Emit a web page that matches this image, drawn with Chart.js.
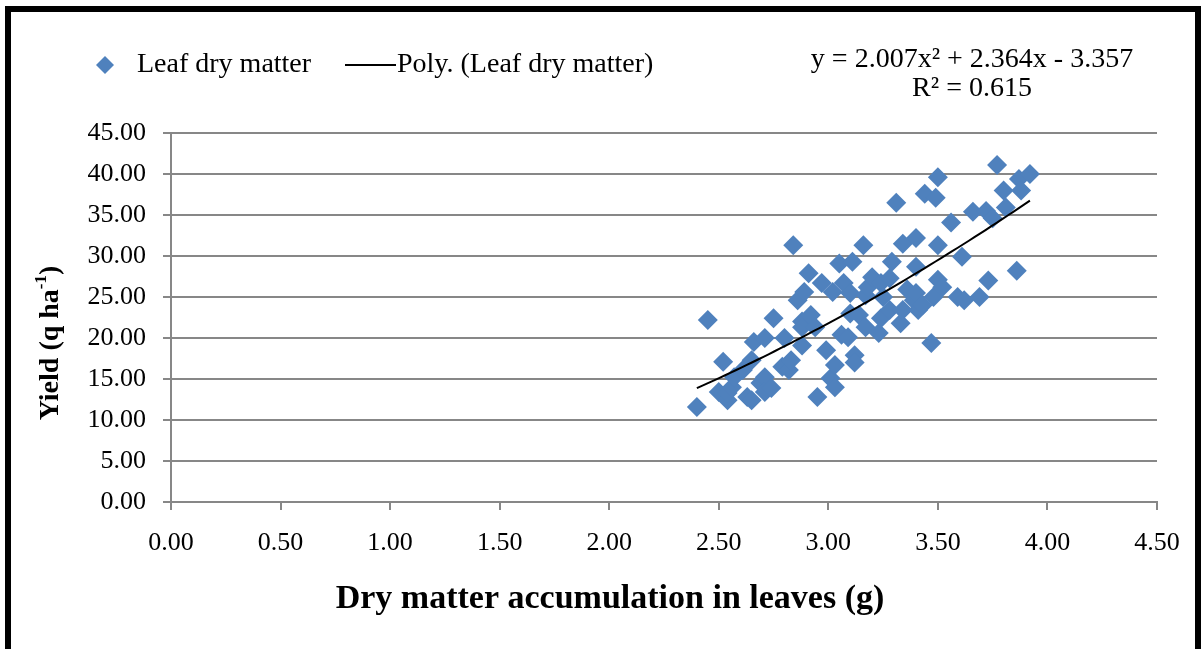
<!DOCTYPE html>
<html><head><meta charset="utf-8">
<script src="https://cdn.jsdelivr.net/npm/chart.js@4.4.1/dist/chart.umd.min.js"></script>
<style>html,body{margin:0;padding:0;background:#fff}canvas{display:block}</style>
</head><body>
<canvas id="c" width="1202" height="649"></canvas>
<script>
// ---- data ----
const leafDryMatter = [
  2.40,2.45,2.50,2.52,2.54,2.54,2.56,2.57,2.61,2.63,2.65,2.65,2.66,2.69,2.71,2.71,2.71,2.74,2.75,2.79,
  2.80,2.82,2.83,2.84,2.86,2.88,2.88,2.89,2.88,2.91,2.92,2.94,2.95,2.97,2.99,3.01,3.02,3.03,3.03,3.05,
  3.06,3.07,3.09,3.10,3.10,3.11,3.12,3.12,3.14,3.16,3.17,3.17,3.18,3.20,3.23,3.24,3.24,3.25,3.28,3.28,
  3.29,3.31,3.33,3.34,3.34,3.36,3.39,3.40,3.40,3.40,3.41,3.43,3.44,3.47,3.48,3.49,3.50,3.50,3.50,3.52,
  3.56,3.59,3.61,3.62,3.66,3.69,3.72,3.73,3.75,3.77,3.80,3.81,3.86,3.87,3.88,3.92
];
const yieldValues = [
  11.6,22.2,13.4,17.1,12.4,13.3,14.0,15.2,16.1,12.8,12.4,17.3,19.5,14.5,15.2,13.4,20.0,13.9,22.4,16.5,
  20.0,16.1,17.3,31.3,24.6,22.0,19.1,25.6,21.3,27.9,22.8,21.3,12.8,26.7,18.5,15.1,25.6,16.7,14.0,29.1,
  20.4,26.7,20.1,25.5,23.0,29.3,17.9,17.0,22.8,31.3,25.2,21.3,26.2,27.4,20.6,26.7,22.4,25.0,27.3,23.4,
  29.3,36.5,21.8,31.5,23.4,25.9,24.6,32.2,28.7,25.5,23.4,24.0,37.6,19.4,25.0,37.1,39.6,31.3,27.1,26.2,
  34.1,25.0,29.9,24.6,35.4,25.0,35.5,27.0,34.6,41.1,38.0,35.9,28.2,39.4,38.0,40.0
];
const xTickValues = [0,0.5,1,1.5,2,2.5,3,3.5,4,4.5];
const yTickValues = [0,5,10,15,20,25,30,35,40,45];
// polynomial trendline shown in the chart (y = a x^2 + b x + c)
const trendCoef = [2.007, 2.364, -3.357];
const trendRange = [2.40, 3.92];
const equationLines = ['y = 2.007x² + 2.364x - 3.357', 'R² = 0.615'];
const seriesNames = ['Leaf dry matter', 'Poly. (Leaf dry matter)'];
const xTitle = 'Dry matter accumulation in leaves (g)';
const yTitleParts = ['Yield (q ha', '-1', ')'];

const FONT = "'Liberation Serif','Times New Roman',serif";
const BLUE = '#4F81BD';
const GRID = '#878787';

const scatterData = leafDryMatter.map((x, i) => ({x, y: yieldValues[i]}));
const trendData = [];
const nSteps = 60;
for (let i = 0; i <= nSteps; i++) {
  const x = trendRange[0] + (trendRange[1] - trendRange[0]) * i / nSteps;
  trendData.push({x, y: trendCoef[0]*x*x + trendCoef[1]*x + trendCoef[2]});
}

const decor = {
  id: 'decor',
  beforeDraw(chart) {
    const ctx = chart.ctx;
    ctx.save();
    ctx.fillStyle = '#fff';
    ctx.fillRect(0, 0, chart.width, chart.height);
    ctx.restore();
  },
  afterDraw(chart) {
    const ctx = chart.ctx;
    ctx.save();
    // outer frame (top, left, right)
    ctx.fillStyle = '#000';
    ctx.fillRect(5, 6, 1196, 6);
    ctx.fillRect(5, 6, 6, 643);
    ctx.fillRect(1195, 6, 6, 643);

    // legend
    const ly = 65;
    ctx.fillStyle = BLUE;
    ctx.beginPath();
    ctx.moveTo(105, ly - 9); ctx.lineTo(114, ly); ctx.lineTo(105, ly + 9); ctx.lineTo(96, ly);
    ctx.closePath(); ctx.fill();
    ctx.fillStyle = '#000';
    ctx.font = '28px ' + FONT;
    ctx.textBaseline = 'middle';
    ctx.textAlign = 'left';
    ctx.fillText(seriesNames[0], 137, ly);
    ctx.strokeStyle = '#000'; ctx.lineWidth = 2;
    ctx.beginPath(); ctx.moveTo(345, ly); ctx.lineTo(396, ly); ctx.stroke();
    ctx.fillText(seriesNames[1], 397, ly);

    // equation
    ctx.textAlign = 'center';
    ctx.fillText(equationLines[0], 972, 60);
    ctx.fillText(equationLines[1], 972, 89);

    // x title
    ctx.font = 'bold 34px ' + FONT;
    ctx.fillText(xTitle, 610, 599);

    // y title (rotated, with superscript)
    ctx.translate(51, 343);
    ctx.rotate(-Math.PI / 2);
    const f1 = 'bold 28px ' + FONT, f2 = 'bold 17px ' + FONT;
    ctx.font = f1; const w1 = ctx.measureText(yTitleParts[0]).width;
    const w3 = ctx.measureText(yTitleParts[2]).width;
    ctx.font = f2; const w2 = ctx.measureText(yTitleParts[1]).width;
    let sx = -(w1 + w2 + w3) / 2;
    ctx.textAlign = 'left';
    ctx.font = f1; ctx.fillText(yTitleParts[0], sx, 0); sx += w1;
    ctx.font = f2; ctx.fillText(yTitleParts[1], sx, -9); sx += w2;
    ctx.font = f1; ctx.fillText(yTitleParts[2], sx, 0);
    ctx.restore();
  }
};

new Chart(document.getElementById('c'), {
  type: 'scatter',
  data: {
    datasets: [
      {
        label: seriesNames[0], data: scatterData, order: 2,
        pointStyle: 'rectRot', pointRadius: 10, pointHoverRadius: 10,
        backgroundColor: BLUE, borderColor: BLUE, borderWidth: 0
      },
      {
        type: 'line', label: seriesNames[1], data: trendData, order: 1,
        borderColor: '#000', borderWidth: 2, pointRadius: 0, fill: false, tension: 0
      }
    ]
  },
  options: {
    responsive: false, animation: false,
    layout: {padding: {left: 0, top: 133, right: 45, bottom: 0}},
    plugins: {legend: {display: false}, tooltip: {enabled: false}, title: {display: false}},
    scales: {
      x: {
        type: 'linear', min: 0, max: 4.5,
        afterBuildTicks: s => { s.ticks = xTickValues.map(v => ({value: v})); },
        afterFit: s => { s.height = 147; },
        ticks: {callback: v => Number(v).toFixed(2), font: {family: FONT, size: 26}, color: '#000',
                padding: 18, maxRotation: 0, autoSkip: false},
        grid: {drawOnChartArea: false, drawTicks: true, tickLength: 8, color: GRID, lineWidth: 2},
        border: {color: GRID, width: 2}
      },
      y: {
        min: 0, max: 45,
        afterBuildTicks: s => { s.ticks = yTickValues.map(v => ({value: v})); },
        afterFit: s => { s.width = 171; },
        ticks: {callback: v => Number(v).toFixed(2), font: {family: FONT, size: 26}, color: '#000',
                padding: 17, autoSkip: false},
        grid: {drawTicks: true, tickLength: 8, color: GRID, lineWidth: 2},
        border: {color: GRID, width: 2}
      }
    }
  },
  plugins: [decor]
});
</script>
</body></html>
